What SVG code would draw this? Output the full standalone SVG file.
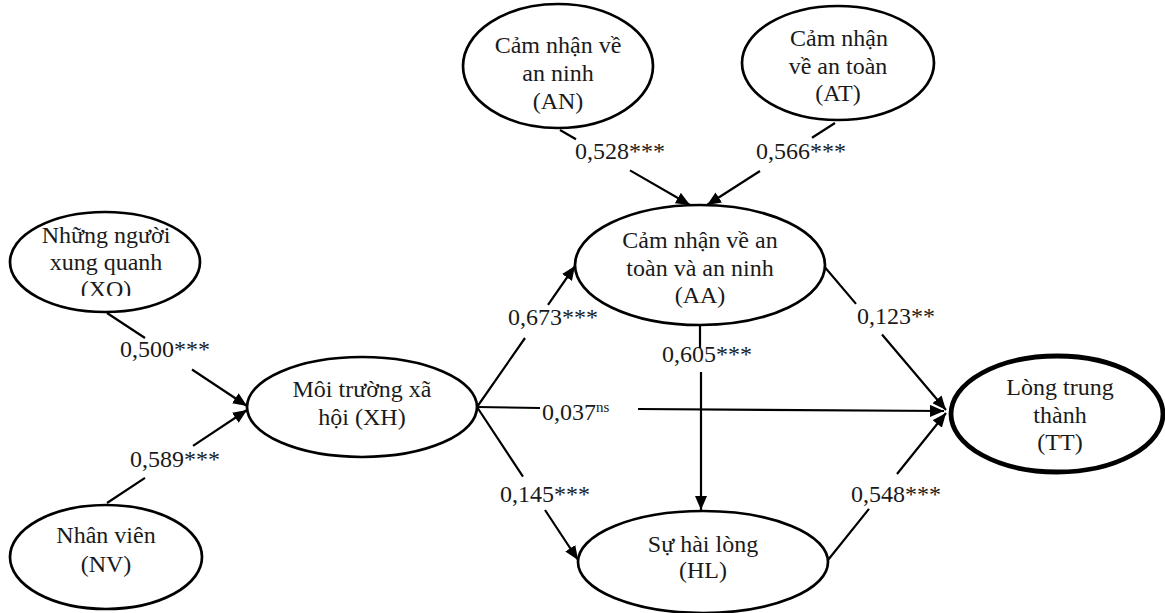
<svg xmlns="http://www.w3.org/2000/svg" width="1165" height="613" viewBox="0 0 1165 613">
<defs>
<marker id="arr" markerUnits="userSpaceOnUse" markerWidth="14" markerHeight="12" refX="14" refY="6" orient="auto">
<path d="M0,0 L14,6 L0,12 z" fill="#000"/>
</marker>
<clipPath id="clipXQ"><rect x="0" y="200" width="300" height="96"/></clipPath>
</defs>
<style>
.node ellipse{fill:#fff;stroke:#000;stroke-width:2.7}
.node text,.lbl{font-family:"Liberation Serif","Times New Roman",serif;font-size:24px;fill:#1a1a1a}
.node text{text-anchor:middle}
.conn path{fill:none;stroke:#000;stroke-width:2.2;marker-end:url(#arr)}
.sup{font-size:15px}
</style>
<rect width="1165" height="613" fill="#fff"/>
<g class="conn" id="connectors">
<path d="M560,130 L576,139.2 M630,170.4 L690,205"/>
<path d="M835,123 L812,137.7 M760,171 L707,205"/>
<path d="M107,313 L145,338 M192,369.5 L247,406"/>
<path d="M107,503 L145,477.8 M193,445.9 L247,410"/>
<path d="M477,407 L525,338 M548,304.8 L575,266"/>
<path d="M477,407 L540,408 M638,409 L944,411"/>
<path d="M477,407 L523,476.7 M545,510 L578,560"/>
<path d="M700,325 L700,348 M701,372 L701,510"/>
<path d="M823,265 L856,303.9 M882,334.5 L946,410"/>
<path d="M828,560 L869,508.9 M897,474 L946,413"/>
</g>
<g class="node" id="AN">
<ellipse cx="558" cy="66" rx="95" ry="62"/>
<text x="558" y="53">Cảm nhận về</text>
<text x="558" y="81">an ninh</text>
<text x="558" y="109">(AN)</text>
</g>
<g class="node" id="AT">
<ellipse cx="838" cy="63" rx="96" ry="57"/>
<text x="839" y="46">Cảm nhận</text>
<text x="838" y="74">về an toàn</text>
<text x="838" y="101">(AT)</text>
</g>
<g class="node" id="AA">
<ellipse cx="700" cy="265" rx="125" ry="60"/>
<text x="700" y="248">Cảm nhận về an</text>
<text x="700" y="276">toàn và an ninh</text>
<text x="700" y="303">(AA)</text>
</g>
<g class="node" id="XQ">
<ellipse cx="105" cy="262" rx="95" ry="50"/>
<g clip-path="url(#clipXQ)">
<text x="106" y="243">Những người</text>
<text x="106" y="270">xung quanh</text>
<text x="106" y="297">(XQ)</text>
</g>
</g>
<g class="node" id="XH">
<ellipse cx="362" cy="407" rx="115" ry="50"/>
<text x="362" y="397">Môi trường xã</text>
<text x="362" y="425">hội (XH)</text>
</g>
<g class="node" id="NV">
<ellipse cx="106" cy="557" rx="96" ry="52"/>
<text x="106" y="543">Nhân viên</text>
<text x="106" y="572">(NV)</text>
</g>
<g class="node" id="HL">
<ellipse cx="703" cy="562" rx="125" ry="51"/>
<text x="703" y="552">Sự hài lòng</text>
<text x="703" y="578">(HL)</text>
</g>
<g class="node" id="TT">
<ellipse cx="1057" cy="414" rx="106" ry="58" style="stroke-width:4.8"/>
<text x="1060" y="395">Lòng trung</text>
<text x="1060" y="423">thành</text>
<text x="1060" y="450">(TT)</text>
</g>
<g id="labels">
<text class="lbl" x="575" y="159">0,528***</text>
<text class="lbl" x="756" y="159">0,566***</text>
<text class="lbl" x="120" y="357">0,500***</text>
<text class="lbl" x="130" y="467">0,589***</text>
<text class="lbl" x="508" y="325">0,673***</text>
<text class="lbl" x="542" y="420">0,037<tspan class="sup" dy="-8">ns</tspan></text>
<text class="lbl" x="662" y="362">0,605***</text>
<text class="lbl" x="857" y="324">0,123**</text>
<text class="lbl" x="500" y="502">0,145***</text>
<text class="lbl" x="851" y="502">0,548***</text>
</g>
</svg>
